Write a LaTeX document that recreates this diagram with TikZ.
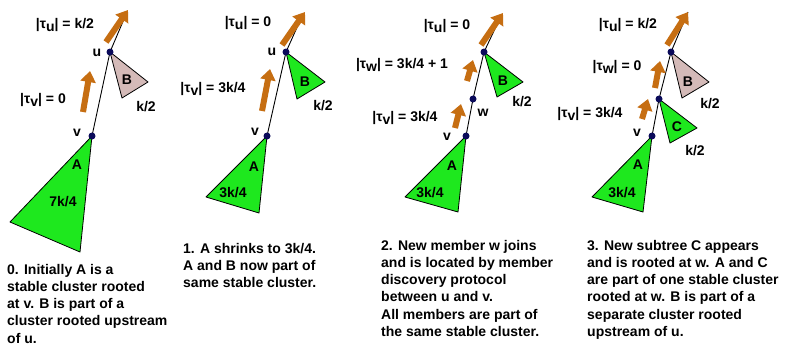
\documentclass[tikz,border=0pt]{standalone}
\usepackage{fontspec}
\setmainfont{Liberation Sans}
\usetikzlibrary{arrows.meta}
\definecolor{arrcol}{RGB}{198,110,18}
\definecolor{agreen}{RGB}{30,232,30}
\definecolor{bpink}{RGB}{212,186,184}
\definecolor{navy}{RGB}{10,10,90}
\newcommand\tsub[1]{\raisebox{-0.35ex}{#1}}
\tikzset{
  lbl/.style={font=\fontsize{14bp}{17bp}\selectfont\bfseries, inner sep=0},
  txt/.style={font=\fontsize{14bp}{17.2bp}\selectfont\bfseries, inner sep=0, align=left, anchor=north west},
  arr/.style={draw=arrcol, line width=6bp, -{Triangle[width=15bp,length=11bp]}},
  dot/.style={circle, fill=navy, inner sep=0, minimum size=7bp},
  edge/.style={draw=black, line width=0.9bp},
  tri/.style={draw=black, line width=0.8bp, line join=round},
  triA/.style={tri, fill=agreen},
  triB/.style={tri, fill=bpink}
}
\begin{document}
\begin{tikzpicture}[x=1bp,y=-1bp]
\fill[white] (0,0) rectangle (785,345);
\useasboundingbox (0,0) rectangle (785,345);

% ---------- Panel 0 ----------
\coordinate (u0) at (110,52);
\coordinate (v0) at (92,136);
\coordinate (t0) at (127,12);
\coordinate (a0l) at (10,222);
\coordinate (a0r) at (80,252);
\coordinate (b0r) at (148,82);
\coordinate (b0b) at (122,98);
\draw[triA] (v0) -- (a0l) -- (a0r) -- cycle;
\draw[triB] (u0) -- (b0r) -- (b0b) -- cycle;
\draw[edge] (v0) -- (u0) -- (t0);
\node[dot] (du0) at (u0) {};
\node[dot] (dv0) at (v0) {};
\coordinate (au0s) at (106,42);
\coordinate (au0e) at (128,10);
\draw[arr] (au0s) -- (au0e);
\coordinate (av0s) at (83,112);
\coordinate (av0e) at (90,71);
\draw[arr] (av0s) -- (av0e);
\node[lbl] (lu0) at (65,25) {|τ\tsub{u}| = k/2};
\node[lbl] (lv0) at (43,100) {|τ\tsub{v}| = 0};
\node[lbl] (nu0) at (97,53) {u};
\node[lbl] (nv0) at (77,133) {v};
\node[lbl] (nb0) at (127,80) {B};
\node[lbl] (kb0) at (146,107) {k/2};
\node[lbl] (na0) at (77,165) {A};
\node[lbl] (ka0) at (63,202) {7k/4};
\node[txt] (c0) at (7,264) {0. Initially A is a\\stable cluster rooted\\at v. B is part of a\\cluster rooted upstream\\of u.};

% ---------- Panel 1 ----------
\coordinate (u1) at (286,52);
\coordinate (v1) at (267,136);
\coordinate (t1) at (303,14);
\coordinate (a1l) at (206,197);
\coordinate (a1r) at (259,213);
\coordinate (b1r) at (325,82);
\coordinate (b1b) at (297,99);
\draw[triA] (v1) -- (a1l) -- (a1r) -- cycle;
\draw[triA] (u1) -- (b1r) -- (b1b) -- cycle;
\draw[edge] (v1) -- (u1) -- (t1);
\node[dot] (du1) at (u1) {};
\node[dot] (dv1) at (v1) {};
\coordinate (au1s) at (282,45);
\coordinate (au1e) at (305,12);
\draw[arr] (au1s) -- (au1e);
\coordinate (av1s) at (262,111);
\coordinate (av1e) at (270,69);
\draw[arr] (av1s) -- (av1e);
\node[lbl] (lu1) at (248,23) {|τ\tsub{u}| = 0};
\node[lbl] (lv1) at (213,89) {|τ\tsub{v}| = 3k/4};
\node[lbl] (nu1) at (272,52) {u};
\node[lbl] (nv1) at (255,132) {v};
\node[lbl] (nb1) at (305,82) {B};
\node[lbl] (kb1) at (323,106) {k/2};
\node[lbl] (na1) at (254,167) {A};
\node[lbl] (ka1) at (233,193) {3k/4};
\node[txt] (c1) at (183,243) {1. A shrinks to 3k/4.\\A and B now part of\\same stable cluster.};

% ---------- Panel 2 ----------
\coordinate (u2) at (484,52);
\coordinate (w2) at (473,99);
\coordinate (v2) at (466,136);
\coordinate (t2) at (502,14);
\coordinate (a2l) at (405,197);
\coordinate (a2r) at (458,212);
\coordinate (b2r) at (523,82);
\coordinate (b2b) at (497,97);
\draw[triA] (v2) -- (a2l) -- (a2r) -- cycle;
\draw[triA] (u2) -- (b2r) -- (b2b) -- cycle;
\draw[edge] (v2) -- (w2) -- (u2) -- (t2);
\node[dot] (du2) at (u2) {};
\node[dot] (dw2) at (w2) {};
\node[dot] (dv2) at (v2) {};
\coordinate (au2s) at (481,45);
\coordinate (au2e) at (503,13);
\draw[arr] (au2s) -- (au2e);
\coordinate (aw2s) at (467,81);
\coordinate (aw2e) at (473,60);
\draw[arr] (aw2s) -- (aw2e);
\coordinate (av2s) at (455,128);
\coordinate (av2e) at (461,104);
\draw[arr] (av2s) -- (av2e);
\node[lbl] (lu2) at (447,26) {|τ\tsub{u}| = 0};
\node[lbl] (lw2) at (402,65) {|τ\tsub{w}| = 3k/4 + 1};
\node[lbl] (lv2) at (405,118) {|τ\tsub{v}| = 3k/4};
\node[lbl] (nw2) at (483,113) {w};
\node[lbl] (nv2) at (447,137) {v};
\node[lbl] (nb2) at (503,81) {B};
\node[lbl] (kb2) at (522,102) {k/2};
\node[lbl] (na2) at (452,166) {A};
\node[lbl] (ka2) at (430,193) {3k/4};
\node[txt] (c2) at (381,240) {2. New member w joins\\and is located by member\\discovery protocol\\between u and v.\\All members are part of\\the same stable cluster.};

% ---------- Panel 3 ----------
\coordinate (u3) at (671,52);
\coordinate (w3) at (659,99);
\coordinate (v3) at (652,136);
\coordinate (t3) at (688,12);
\coordinate (a3l) at (592,197);
\coordinate (a3r) at (643,212);
\coordinate (b3r) at (709,82);
\coordinate (b3b) at (682,98);
\coordinate (c3r) at (697,128);
\coordinate (c3b) at (670,143);
\draw[triA] (v3) -- (a3l) -- (a3r) -- cycle;
\draw[triB] (u3) -- (b3r) -- (b3b) -- cycle;
\draw[triA] (w3) -- (c3r) -- (c3b) -- cycle;
\draw[edge] (v3) -- (w3) -- (u3) -- (t3);
\node[dot] (du3) at (u3) {};
\node[dot] (dw3) at (w3) {};
\node[dot] (dv3) at (v3) {};
\coordinate (au3s) at (667,45);
\coordinate (au3e) at (688,12);
\draw[arr] (au3s) -- (au3e);
\coordinate (aw3s) at (655,88);
\coordinate (aw3e) at (660,61);
\draw[arr] (aw3s) -- (aw3e);
\coordinate (av3s) at (642,119);
\coordinate (av3e) at (648,99);
\draw[arr] (av3s) -- (av3e);
\node[lbl] (lu3) at (628,25) {|τ\tsub{u}| = k/2};
\node[lbl] (lw3) at (617,67) {|τ\tsub{w}| = 0};
\node[lbl] (lv3) at (590,114) {|τ\tsub{v}| = 3k/4};
\node[lbl] (nv3) at (637,133) {v};
\node[lbl] (nb3) at (688,82) {B};
\node[lbl] (kb3) at (710,104) {k/2};
\node[lbl] (nc3) at (677,127) {C};
\node[lbl] (kc3) at (695,151) {k/2};
\node[lbl] (na3) at (638,165) {A};
\node[lbl] (ka3) at (622,193) {3k/4};
\node[txt] (c3) at (587,240) {3. New subtree C appears\\and is rooted at w. A and C\\are part of one stable cluster\\rooted at w. B is part of a\\separate cluster rooted\\upstream of u.};
\end{tikzpicture}
\end{document}
